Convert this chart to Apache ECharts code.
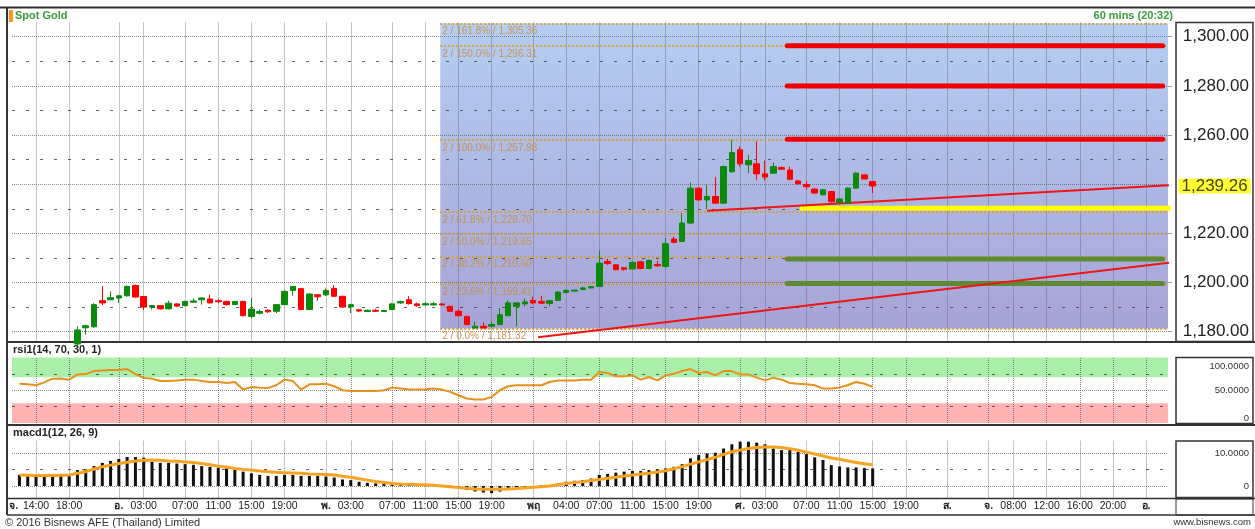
<!DOCTYPE html>
<html><head><meta charset="utf-8">
<script src="https://cdn.jsdelivr.net/npm/echarts@6/dist/echarts.min.js"></script>
<style>html,body{margin:0;padding:0;background:#fff;}#c{width:1255px;height:529px;}</style>
</head><body><div id="c"></div>
<script>
// ---------------- DATA ----------------
const FONT = '"Liberation Sans", Arial, sans-serif';
const candleStartCat = 8;           // category slot of first visible candle
// [open, close, low, high]
const ohlc = [
 [1175.0,1180.7,1174.0,1182.2],[1181.6,1182.4,1178.8,1182.8],[1182.0,1191.0,1181.5,1191.6],[1192.6,1191.7,1190.8,1198.6],
 [1193.0,1193.8,1192.8,1196.4],[1193.7,1194.6,1191.7,1195.0],[1194.6,1198.4,1194.3,1198.8],[1198.8,1194.1,1193.8,1199.2],
 [1194.3,1190.0,1188.8,1194.6],[1190.0,1190.6,1189.0,1190.8],[1190.6,1189.3,1189.0,1190.8],[1189.3,1191.6,1189.0,1192.6],
 [1191.3,1190.4,1190.0,1191.5],[1190.6,1192.3,1190.3,1192.6],[1192.0,1192.5,1191.8,1193.6],[1193.0,1193.7,1191.0,1193.9],
 [1193.3,1191.7,1191.5,1195.0],[1192.6,1192.2,1191.6,1193.2],[1192.3,1191.0,1190.6,1192.6],[1191.0,1192.3,1190.8,1192.5],
 [1192.3,1186.5,1186.2,1192.6],[1186.2,1189.2,1185.5,1193.7],[1187.5,1188.2,1187.0,1189.0],[1188.7,1188.1,1187.6,1189.2],
 [1188.3,1191.0,1187.6,1191.2],[1191.0,1196.4,1190.8,1196.8],[1196.8,1198.4,1194.6,1198.6],[1197.5,1189.0,1188.8,1197.8],
 [1189.0,1195.3,1188.8,1195.6],[1195.0,1194.2,1192.7,1195.3],[1195.0,1196.8,1194.5,1197.6],[1197.6,1194.4,1194.2,1199.0],
 [1194.4,1190.0,1189.8,1194.6],[1190.1,1191.0,1187.6,1191.4],[1188.9,1188.4,1188.0,1189.2],[1188.2,1188.7,1188.0,1189.0],
 [1188.7,1188.3,1188.0,1189.3],[1188.2,1188.6,1188.0,1188.8],[1189.0,1191.3,1188.8,1191.6],[1191.7,1192.3,1191.3,1192.6],
 [1193.0,1191.4,1191.0,1194.4],[1191.3,1190.6,1190.2,1191.8],[1190.9,1191.4,1190.6,1192.0],[1190.9,1191.4,1190.6,1192.0],
 [1191.3,1190.9,1190.6,1191.6],[1190.3,1188.3,1188.0,1190.6],[1188.3,1186.5,1186.3,1189.2],[1186.2,1182.9,1182.6,1186.5],
 [1181.5,1182.2,1181.32,1184.2],[1182.2,1181.5,1181.32,1183.8],[1182.2,1182.9,1181.8,1184.0],[1182.9,1186.9,1182.6,1189.6],
 [1186.5,1191.7,1186.3,1192.7],[1190.3,1191.7,1182.2,1192.0],[1191.3,1192.1,1190.3,1193.5],[1192.7,1191.7,1191.3,1194.2],
 [1192.3,1191.6,1191.4,1194.6],[1191.5,1192.6,1190.3,1192.8],[1192.7,1196.1,1192.5,1196.5],[1196.0,1196.8,1195.6,1197.2],
 [1196.5,1196.9,1196.3,1197.2],[1197.2,1197.8,1196.8,1198.3],[1197.8,1198.3,1197.6,1198.6],[1198.4,1207.9,1198.2,1213.0],
 [1208.6,1207.7,1207.2,1209.7],[1207.2,1205.2,1205.0,1207.5],[1206.0,1205.4,1204.8,1206.3],[1205.5,1208.2,1205.3,1208.5],
 [1208.4,1205.7,1205.4,1208.7],[1205.7,1209.0,1205.5,1209.4],[1207.3,1206.8,1206.3,1208.8],[1206.5,1215.8,1206.2,1218.1],
 [1217.7,1216.3,1216.0,1218.6],[1216.7,1224.2,1216.5,1228.2],[1224.2,1238.4,1223.9,1240.7],[1238.4,1233.6,1233.2,1238.8],
 [1233.6,1235.0,1229.9,1239.7],[1235.0,1232.3,1232.0,1242.9],[1232.3,1247.2,1232.0,1247.6],[1245.1,1252.9,1244.5,1257.98],
 [1254.0,1248.3,1247.2,1255.3],[1247.9,1249.6,1244.5,1251.9],[1248.3,1244.2,1241.8,1257.5],[1244.2,1242.9,1241.5,1249.6],
 [1244.5,1247.2,1244.2,1248.8],[1246.8,1246.1,1245.8,1247.2],[1245.8,1242.0,1241.6,1247.2],[1241.3,1240.2,1239.8,1241.8],
 [1239.9,1239.0,1237.8,1241.1],[1238.0,1236.4,1236.0,1238.4],[1235.7,1237.7,1235.4,1238.0],[1237.0,1232.9,1232.5,1237.3],
 [1232.6,1234.0,1232.0,1234.3],[1232.3,1238.4,1232.0,1238.7],[1238.4,1244.5,1238.2,1244.8],[1243.8,1242.1,1241.9,1244.0],
 [1241.1,1239.26,1236.4,1241.3]
];
const lastPrice = 1239.26;

const indStartCat = 1;  // indicators start at this slot
const rsiVals = [
 60,59,57.6,62,67.7,68,66.2,74.2,74.7,79.3, 80,80.8,80.8,82.3,74.7,68.9,67.7,64.1,64.1,65,
 66.2,66.2,64,62.6,62.6,61.1,62.6,51,55.1,54, 53.6,57.6,66.2,64,51,59.1,59.1,60,56.1,50,
 49,49,49,49,50,54,52.5,51,
 51,51.5,52.5,51,47.5,42.4,37.4,36,36,39.9, 50,56.1,57.6,57.6,57.6,57.6,62.6,65,65,65,
 66.2,66.2,77.8,76.3,71.2,71.2,72.7,66.2,70.2,65, 72.7,75.2,79.3,82.3,76.3,77.8,72.7,79.3,79.3,74.2,
 74.2,69.2,65,69.2,66.2,61.1,60,59.1,57.6,52.5, 52.5,54,58,62.6,60,55.1
];
const macdHist = [
 3.4,3.1,3.1,3.1,3.4,3.7,3.7,4.9,5.1,6.1, 7.1,7.7,8.3,8.9,8.9,8.7,7.4,7.1,7.1,6.9,
 6.7,6.5,6.1,5.9,5.6,5.4,5.1,4.4,3.9,3.4, 3.1,3.1,3.4,3.4,3.1,3.1,3.1,2.9,2.6,2.0,
 1.8,1.3,1.0,0.8,0.6,0.6,0.6,0.8, 0.7,
 0.6,0.3,0.3,0.1,-0.2,-1.2,-1.7,-2.0,-2.2,-1.7, -0.7,-0.4,-0.2,0,0.2,0.3,0.8,1.3,1.6,1.8,
 2.3,3.4,3.7,4.1,4.4,4.6,4.6,4.9,5.1,5.4, 5.9,6.7,8.5,9.5,10.0,10.2,11.5,12.8,13.6,13.6,
 13.3,12.8,11.5,11.0,11.2,10.5,9.8,8.8,8.0,6.4, 6.0,5.7,5.7,5.5,5.4
];
const macdSignal = [
 3.4,3.3,3.2,3.2,3.2,3.3,3.4,3.9,4.4,5.2, 5.9,6.4,6.9,7.3,7.7,7.9,8.0,7.9,7.7,7.6,
 7.4,7.2,6.9,6.5,6.1,5.8,5.4,5.1,4.9,4.6, 4.4,4.2,4.1,4.0,3.9,3.7,3.6,3.5,3.4,3.0,
 2.7,2.2,1.8,1.4,1.1,0.8,0.6,0.5,0.4,0.4, 0.2,0.0,-0.2,-0.5,-0.7,-0.9,-1.0,-1.0,-1.0,-0.9,
 -0.8,-0.6,-0.4,-0.2,0.0,0.4,0.8,1.1,1.3,1.7, 2.0,2.4,2.7,3.1,3.4,3.7,3.9,4.3,4.7,5.3,
 5.9,6.7,7.4,8.1,8.8,9.7,10.5,11.0,11.5,11.8, 12.0,12.0,11.8,11.4,11.0,10.4,9.8,9.2,8.6,8.2,
 7.7,7.2,6.8,6.5
];

// Fibonacci retracement (anchor slot and levels)
const fibStartCat = 51.8;
const fibPcts = ['161.8%','150.0%','100.0%','61.8%','50.0%','38.2%','23.6%','0.0%'];
const fibVals = [1305.36,1296.31,1257.98,1228.70,1219.65,1210.60,1199.41,1181.32];

// drawn levels
const levelStartCat = 93.7, levelEndCat = 139.0;
const resistanceLevels = [1296.3, 1280.0, 1258.3];
const supportLevels = [1209.6, 1199.6];
const yellowLevel = 1230.2, yellowStartCat = 95.2, yellowEndCat = 140.5;
const trendLines = [
  [[84.0, 1229.2], [139.9, 1239.6]],
  [[63.6, 1177.7], [139.9, 1208.1]]
];

// axes / ticks
const xMin = 0.1, xMax = 139.65;
const gridCats = [3,7,13,16,21,25,29,33,38,41,46,50,54,58,63,67,71,75,79,83,88,91,96,100,104,108,113,118,121,125,129,133,137];
const xLabelCats = [0.3].concat(gridCats);
const xLabelTexts = ['จ.','14:00','18:00','อ.','03:00','07:00','11:00','15:00','19:00','พ.','03:00','07:00','11:00','15:00','19:00','พฤ','04:00','07:00','11:00','15:00','19:00','ศ.','03:00','07:00','11:00','15:00','19:00','ส.','จ.','08:00','12:00','16:00','20:00','อ.'];
const dayMarks = ['จ.','อ.','พ.','พฤ','ศ.','ส.'];
const priceMajor = [1180,1200,1220,1240,1260,1280,1300];
const priceMinor = [1190,1210,1230,1250,1270,1290];
const priceLabels = [1180,1200,1220,1260,1280,1300];
const rsiMajor = [50], rsiMinor = [25,75], rsiLabels = [0,50,100];
const macdMajor = [0,10], macdMinor = [5], macdLabels = [0,10];

// ---------------- CHART ----------------
const labelMap = {};
xLabelCats.forEach((c,i)=>{ labelMap[String(c)] = xLabelTexts[i]; });

const vStyle = {type:'dotted', color:'rgba(90,90,90,0.7)', width:1};
const majStyle = {type:'dotted', color:'rgba(90,90,90,0.7)', width:1};
const minStyle = {type:[3,11], color:'rgba(60,60,60,0.8)', width:1};

function gridLines(major, minor, xi, yi) {
  const data = [];
  gridCats.forEach(c => data.push({xAxis:c, lineStyle:vStyle}));
  major.forEach(v => data.push({yAxis:v, lineStyle:majStyle}));
  minor.forEach(v => data.push({yAxis:v, lineStyle:minStyle}));
  return {type:'line', xAxisIndex:xi, yAxisIndex:yi, data:[], z:2, silent:true,
    markLine:{silent:true, symbol:['none','none'], label:{show:false}, z:2, animation:false, data:data}};
}

const fmtPrice = v => Number(v).toLocaleString('en-US',{minimumFractionDigits:2, maximumFractionDigits:2});

const series = [];
// blue fib zone
series.push({type:'line', xAxisIndex:0, yAxisIndex:0, data:[], z:1, silent:true,
  markArea:{silent:true, z:1, data:[[
    {coord:[fibStartCat, fibVals[fibVals.length-1]],
     itemStyle:{color:new echarts.graphic.LinearGradient(0,0,0,1,[{offset:0,color:'#b5cef2'},{offset:1,color:'#a7a4d6'}])}},
    {coord:[xMax, fibVals[0]]}
  ]]}});
series.push(gridLines(priceMajor, priceMinor, 0, 0));
// fib lines
series.push({type:'line', xAxisIndex:0, yAxisIndex:0, data:[], z:3, silent:true,
  markLine:{silent:true, symbol:['none','none'], z:3, animation:false,
    lineStyle:{type:[2,2], color:'#d89e3c', width:2},
    label:{show:true, position:'insideStartBottom', distance:[2,3], fontSize:10, fontFamily:FONT,
           color:'rgba(200,145,75,0.95)'},
    data: fibVals.map((v,i)=>[
      {coord:[fibStartCat, v], label:{formatter:'2 / '+fibPcts[i]+' / '+fmtPrice(v)}},
      {coord:[xMax, v]}
    ])}});
// thick levels
resistanceLevels.forEach(v => series.push({type:'line', xAxisIndex:0, yAxisIndex:0, z:6, silent:true, symbol:'none', clip:false,
  data:[[levelStartCat,v],[levelEndCat,v]], lineStyle:{color:'#f20000', width:5, cap:'round'}}));
supportLevels.forEach(v => series.push({type:'line', xAxisIndex:0, yAxisIndex:0, z:6, silent:true, symbol:'none', clip:false,
  data:[[levelStartCat,v],[levelEndCat,v]], lineStyle:{color:'#5d8a32', width:5, cap:'round'}}));
series.push({type:'line', xAxisIndex:0, yAxisIndex:0, z:6, silent:true, symbol:'none', clip:false,
  data:[[yellowStartCat,yellowLevel],[yellowEndCat,yellowLevel]], lineStyle:{color:'#ffff00', width:5}});
trendLines.forEach(t => series.push({type:'line', xAxisIndex:0, yAxisIndex:0, z:7, silent:true, symbol:'none', clip:false,
  data:t, lineStyle:{color:'#ee1515', width:2}}));
// candles
series.push({type:'candlestick', xAxisIndex:0, yAxisIndex:0, z:10, clip:true, barWidth:6,
  encode:{x:0, y:[1,2,3,4]},
  data: ohlc.map((d,i)=>[candleStartCat+i, d[0], d[1], d[2], d[3]]),
  itemStyle:{color:'#0b8a0b', color0:'#ff0000', borderColor:'#0b8a0b', borderColor0:'#ff0000', borderWidth:1}});
// current price label
series.push({type:'scatter', xAxisIndex:0, yAxisIndex:0, z:12, silent:true, clip:false, symbolSize:1,
  itemStyle:{color:'rgba(0,0,0,0)'},
  data:[[xMax, lastPrice]],
  label:{show:true, position:'right', distance:10, formatter:p=>fmtPrice(p.value[1]), fontSize:17, fontFamily:FONT,
         color:'#111', backgroundColor:'#ffff00', padding:[0,3,0,3], lineHeight:15}});
// RSI
series.push({type:'line', xAxisIndex:1, yAxisIndex:1, data:[], z:1, silent:true,
  markArea:{silent:true, z:1, data:[
    [{yAxis:70, itemStyle:{color:'#aaf0aa'}},{yAxis:100}],
    [{yAxis:0, itemStyle:{color:'#ffb3b3'}},{yAxis:30}]
  ]}});
series.push(gridLines(rsiMajor, rsiMinor, 1, 1));
series.push({type:'line', xAxisIndex:1, yAxisIndex:1, z:5, silent:true, symbol:'none',
  data: rsiVals.map((v,i)=>[indStartCat+i, v]), lineStyle:{color:'#e8901c', width:2}});
// MACD
series.push(gridLines(macdMajor, macdMinor, 2, 2));
series.push({type:'bar', xAxisIndex:2, yAxisIndex:2, z:4, silent:true, barWidth:3,
  data: macdHist.map((v,i)=>[indStartCat+i, v]), itemStyle:{color:'#111'}});
series.push({type:'line', xAxisIndex:2, yAxisIndex:2, z:5, silent:true, symbol:'none',
  data: macdSignal.map((v,i)=>[indStartCat+i, v]), lineStyle:{color:'#f5a322', width:3}});

function hiddenX(gi){ return {type:'value', gridIndex:gi, min:xMin, max:xMax, show:false}; }

const option = {
  animation:false,
  textStyle:{fontFamily:FONT},
  grid:[
    {left:12, top:22, width:1156, height:319.5},
    {left:12, top:357.5, width:1156, height:65.5},
    {left:12, top:440.7, width:1156, height:56.7}
  ],
  xAxis:[hiddenX(0), hiddenX(1),
    {type:'value', gridIndex:2, min:xMin, max:xMax, axisLine:{show:false}, axisTick:{show:false}, splitLine:{show:false},
     axisLabel:{customValues:xLabelCats, margin:3, fontSize:10.5, color:'#222', fontFamily:FONT,
       formatter:v=>{ const t = labelMap[String(v)] || ''; return dayMarks.indexOf(t)>=0 ? '{d|'+t+'}' : t; },
       rich:{d:{fontWeight:'bold', fontSize:10.5, color:'#222', fontFamily:FONT}}}}
  ],
  yAxis:[
    {type:'value', gridIndex:0, position:'right', min:1176, max:1306, splitLine:{show:false}, axisLine:{show:false},
     axisTick:{show:true, length:4, customValues:priceLabels, lineStyle:{color:'#999'}},
     axisLabel:{customValues:priceLabels, formatter:v=>fmtPrice(v), align:'right', margin:81, fontSize:17, color:'#222', fontFamily:FONT}},
    {type:'value', gridIndex:1, position:'right', min:0, max:100, splitLine:{show:false}, axisLine:{show:false}, axisTick:{show:false},
     axisLabel:{customValues:rsiLabels, align:'right', margin:81, fontSize:9.5, color:'#333', fontFamily:FONT,
       formatter:v=> v===100 ? '{t|100.0000}' : (v===0 ? '{b|0}' : '{m|'+v.toFixed(4)+'}'),
       rich:{t:{padding:[17,0,0,0], fontSize:9.5, color:'#333'}, b:{padding:[0,0,10,0], fontSize:9.5, color:'#333'}, m:{fontSize:9.5, color:'#333'}}}},
    {type:'value', gridIndex:2, position:'right', min:-3.5, max:13.9, splitLine:{show:false}, axisLine:{show:false}, axisTick:{show:false},
     axisLabel:{customValues:macdLabels, align:'right', margin:81, fontSize:9.5, color:'#333', fontFamily:FONT,
       formatter:v=> v===0 ? '0' : v.toFixed(4)}}
  ],
  graphic:[
    {type:'line', silent:true, shape:{x1:0,y1:7.5,x2:1255,y2:7.5}, style:{stroke:'#333', lineWidth:2}},
    {type:'line', silent:true, shape:{x1:7,y1:8,x2:7,y2:515}, style:{stroke:'#333', lineWidth:2}},
    {type:'line', silent:true, shape:{x1:7,y1:342,x2:1255,y2:342}, style:{stroke:'#333', lineWidth:2}},
    {type:'line', silent:true, shape:{x1:7,y1:425,x2:1255,y2:425}, style:{stroke:'#333', lineWidth:2}},
    {type:'line', silent:true, shape:{x1:7,y1:498.5,x2:1255,y2:498.5}, style:{stroke:'#333', lineWidth:1.5}},
    {type:'line', silent:true, shape:{x1:7,y1:515,x2:1255,y2:515}, style:{stroke:'#333', lineWidth:1.5}},
    {type:'rect', silent:true, shape:{x:1176,y:22.5,width:77,height:319}, style:{fill:'none', stroke:'#333', lineWidth:1.5}},
    {type:'rect', silent:true, shape:{x:1176,y:357.5,width:77,height:66}, style:{fill:'none', stroke:'#333', lineWidth:1.5}},
    {type:'rect', silent:true, shape:{x:1176,y:441,width:77,height:56.5}, style:{fill:'none', stroke:'#333', lineWidth:1.5}},
    {type:'rect', silent:true, shape:{x:1176,y:499,width:77,height:16}, style:{fill:'none', stroke:'#333', lineWidth:1}},
    {type:'rect', silent:true, shape:{x:9,y:10,width:4,height:12}, style:{fill:'#f39a1e'}},
    {type:'text', silent:true, x:15, y:15.5, style:{text:'Spot Gold', fill:'#3a9b3a', fontSize:11, fontWeight:'bold', fontFamily:FONT, textVerticalAlign:'middle'}},
    {type:'text', silent:true, x:1173, y:15.5, style:{text:'60 mins (20:32)', fill:'#3a9b3a', fontSize:11, fontWeight:'bold', fontFamily:FONT, textAlign:'right', textVerticalAlign:'middle'}},
    {type:'text', silent:true, x:13, y:349.5, style:{text:'rsi1(14, 70, 30, 1)', fill:'#222', fontSize:11, fontWeight:'bold', fontFamily:FONT, textVerticalAlign:'middle'}},
    {type:'text', silent:true, x:13, y:433, style:{text:'macd1(12, 26, 9)', fill:'#222', fontSize:11, fontWeight:'bold', fontFamily:FONT, textVerticalAlign:'middle'}},
    {type:'text', silent:true, x:5, y:522.5, style:{text:'© 2016 Bisnews AFE (Thailand) Limited', fill:'#333', fontSize:11, fontFamily:FONT, textVerticalAlign:'middle'}},
    {type:'text', silent:true, x:1251, y:522.5, style:{text:'www.bisnews.com', fill:'#333', fontSize:9.5, fontFamily:FONT, textAlign:'right', textVerticalAlign:'middle'}}
  ],
  series: series
};
const chart = echarts.init(document.getElementById('c'), null, {renderer:'canvas', width:1255, height:529});
chart.setOption(option);
</script>
</body></html>
